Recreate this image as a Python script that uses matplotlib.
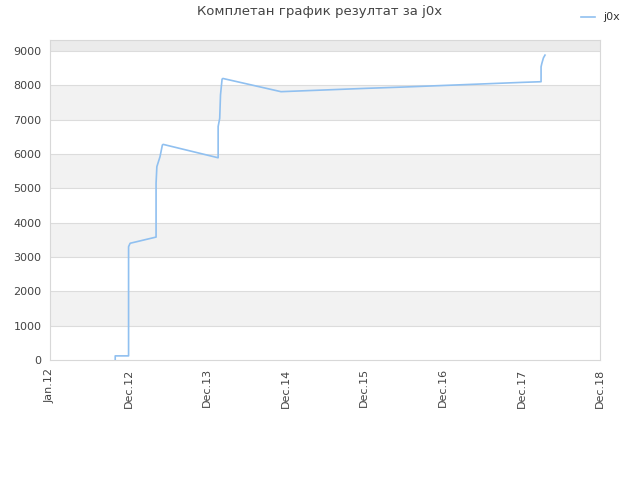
import matplotlib
matplotlib.use("Agg")
import matplotlib.pyplot as plt

# time in years since Jan.12
years = [0.83, 0.83, 1.0, 1.0, 1.0, 1.02, 1.35, 1.35, 1.36, 1.40, 1.43, 1.44,
         2.14, 2.14, 2.16, 2.17, 2.19, 2.20, 2.94, 3.5, 4.0, 4.5, 5.0, 5.5,
         6.0, 6.25, 6.25, 6.26, 6.28, 6.30]
score = [0, 120, 120, 2000, 3300, 3400, 3580, 5150, 5630, 5920, 6260, 6280,
         5890, 6800, 7040, 7720, 8180, 8200, 7815, 7865, 7910, 7950, 7995, 8040,
         8085, 8105, 8540, 8640, 8800, 8880]

tick_pos = [0, 1, 2, 3, 4, 5, 6, 7]
tick_labels = ["Jan.12", "Dec.12", "Dec.13", "Dec.14", "Dec.15", "Dec.16", "Dec.17", "Dec.18"]

fig = plt.figure(figsize=(6.4, 4.8), dpi=100)
ax = fig.add_axes([50/640, 1 - 360/480, 550/640, 320/480])

ymax = 9320
ax.set_xlim(0, 7)
ax.set_ylim(0, ymax)

# alternating bands
for lo in range(0, 9000, 1000):
    if (lo // 1000) % 2 == 1:
        ax.axhspan(lo, lo + 1000, color="#f2f2f2", zorder=0, lw=0)
ax.axhspan(9000, ymax, color="#ebebeb", zorder=0, lw=0)
for v in range(1000, 10000, 1000):
    ax.axhline(v, color="#dcdcdc", lw=0.8, zorder=1)

ax.plot(years, score, color="#90c0f0", lw=1.2, label="j0x", zorder=3)

ax.set_yticks(range(0, 10000, 1000))
ax.set_xticks(tick_pos)
ax.set_xticklabels(tick_labels, rotation=90)
ax.tick_params(length=0, labelsize=8, colors="#444444", pad=6)
for s in ax.spines.values():
    s.set_color("#d8d8d8")

fig.text(0.5, 1 - 12/480, "Комплетан график резултат за j0x", ha="center", va="center",
         fontsize=9.5, color="#444444")
fig.legend(loc="upper right", bbox_to_anchor=(0.985, 0.995), frameon=False,
           fontsize=8, handlelength=1.2, labelcolor="#333333")

fig.savefig("out.png", dpi=100)
